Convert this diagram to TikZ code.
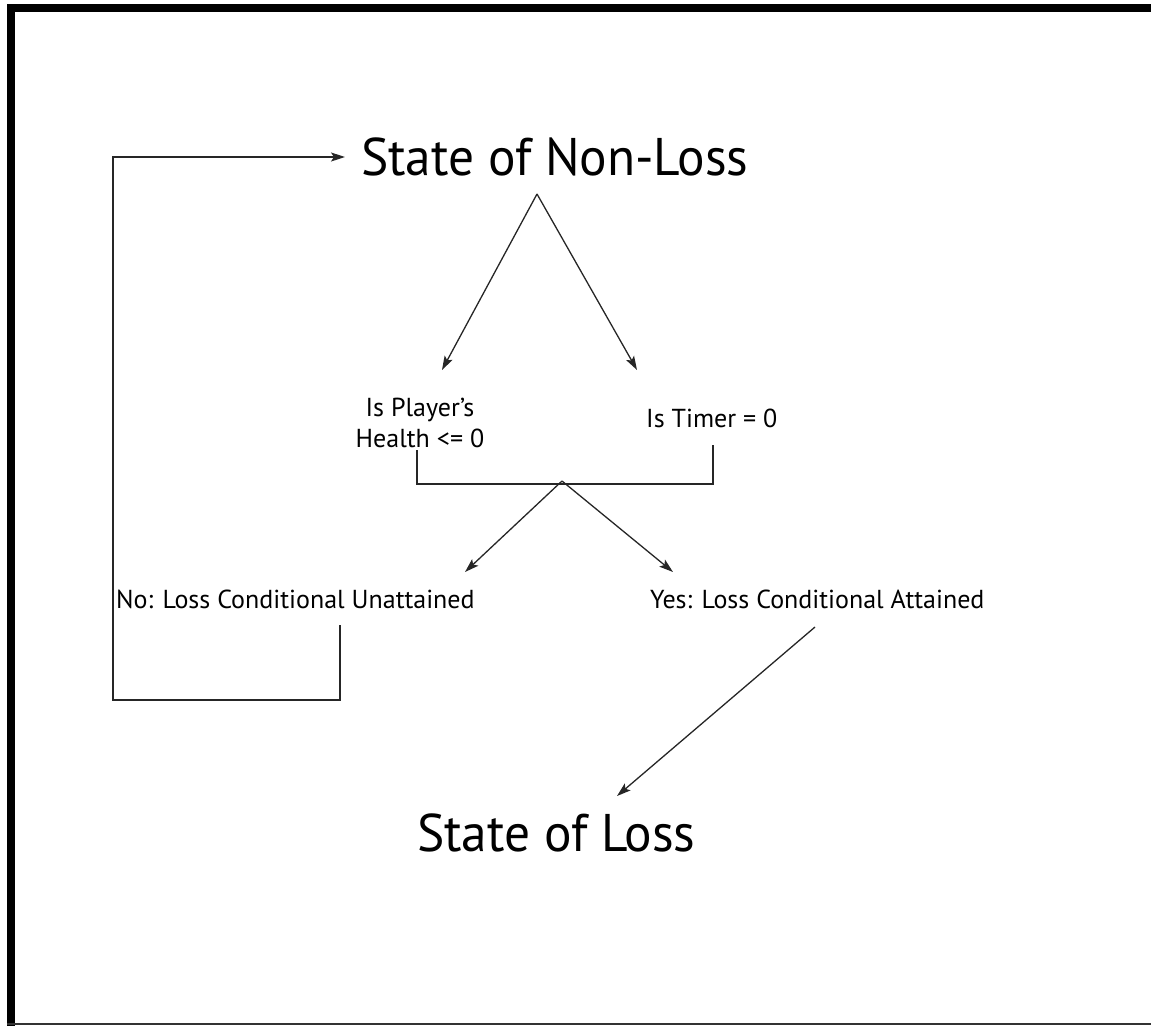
\documentclass[tikz,border=0pt]{standalone}
\usepackage{fontspec}
\setmainfont{PT Sans}
\newfontfamily\bigfont[FakeStretch=0.97]{PT Sans}
\usetikzlibrary{arrows.meta}
\begin{document}
\begin{tikzpicture}[x=1pt,y=-1pt,
  big/.style={font=\bigfont\fontsize{53}{60}\selectfont, inner sep=0pt, anchor=base west},
  small/.style={font=\fontsize{26}{33}\selectfont, inner sep=0pt},
  conn/.style={line width=1.3pt, draw=black!85},
  arr/.style={conn, -{Stealth[length=14pt,width=9pt,inset=3pt]}}]
\useasboundingbox (0,0) rectangle (1151,1026);
% frame
\fill[black] (7,4) rectangle (15,1026);
\fill[black] (7,4) rectangle (1151,12);
\draw[line width=1.8pt, black!80] (7,1024) -- (1151,1024);
% texts
\node[big] (nonloss) at (361,175) {State of Non-Loss};
\node[small, align=center] (health) at (420,423) {Is Player’s\\[-2pt]Health <= 0};
\node[small, anchor=base west] (timer) at (646,427) {Is Timer = 0};
\node[small, anchor=base west] (no) at (116,608) {No: Loss Conditional Unattained};
\node[small, anchor=base west] (yes) at (650,608) {Yes: Loss Conditional Attained};
\node[big] (loss) at (417,851) {State of Loss};
% junction points
\coordinate (apexA) at (537,194);
\coordinate (tipH) at (442,370);
\coordinate (tipT) at (637,370);
\coordinate (brL) at (417,450);
\coordinate (brLb) at (417,484);
\coordinate (brRb) at (713,484);
\coordinate (brR) at (713,445);
\coordinate (apexB) at (562,481);
\coordinate (tipNo) at (465,572);
\coordinate (tipYes) at (673,572);
\coordinate (noStart) at (340,625);
\coordinate (noCorner) at (340,700);
\coordinate (loopBL) at (113,700);
\coordinate (loopTL) at (113,157);
\coordinate (loopEnd) at (345,157);
\coordinate (yesStart) at (815,627);
\coordinate (tipLoss) at (617,796);
% connectors
\draw[arr] (apexA) -- (tipH);
\draw[arr] (apexA) -- (tipT);
\draw[conn] (brL) -- (brLb) -- (brRb) -- (brR);
\draw[arr] (apexB) -- (tipNo);
\draw[arr] (apexB) -- (tipYes);
\draw[arr] (noStart) -- (noCorner) -- (loopBL) -- (loopTL) -- (loopEnd);
\draw[arr] (yesStart) -- (tipLoss);
\end{tikzpicture}
\end{document}
